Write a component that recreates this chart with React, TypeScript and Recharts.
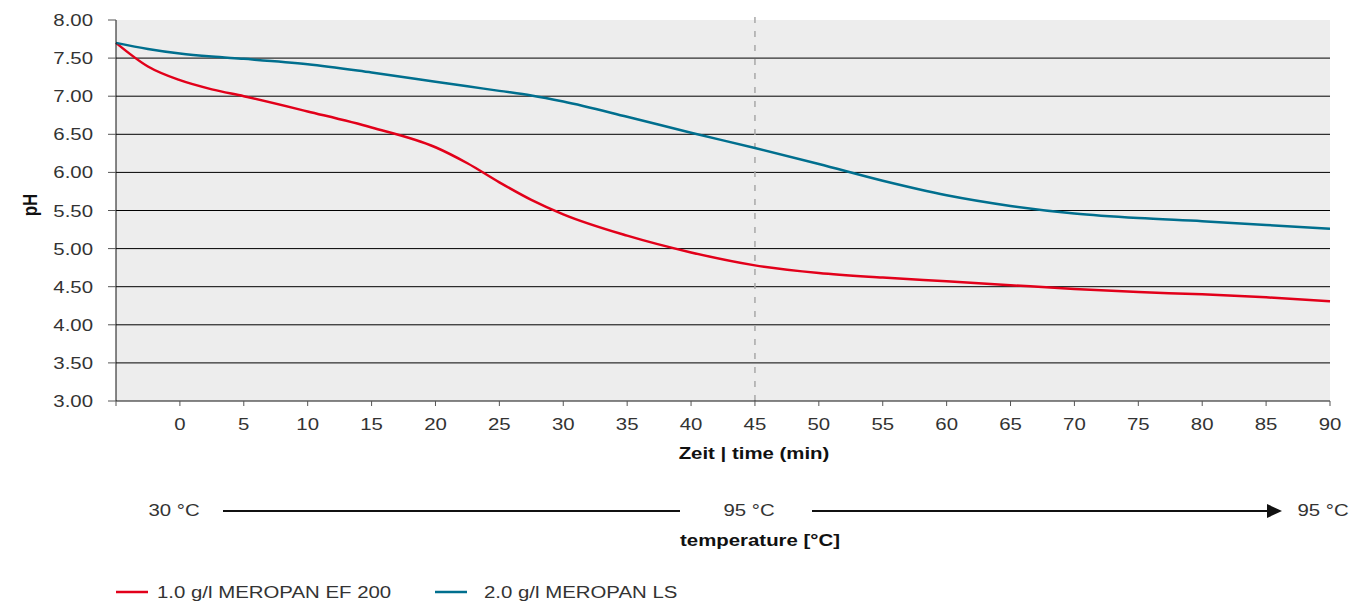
import React from 'react';
import { LineChart, Line, XAxis, YAxis, CartesianGrid, ReferenceLine } from 'recharts';

// time in minutes (the -5 slot is the unlabeled start of the axis)
const times = [-5, -2.5, 0, 2.5, 5, 10, 15, 20, 22.5, 25, 27.5, 30, 35, 40, 45, 50, 55, 60, 65, 70, 75, 80, 85, 90];
const ef200 = [7.7, 7.39, 7.21, 7.09, 7.0, 6.8, 6.59, 6.33, 6.12, 5.87, 5.64, 5.45, 5.17, 4.95, 4.78, 4.68, 4.62, 4.57, 4.52, 4.47, 4.43, 4.4, 4.36, 4.31];
const ls = [7.7, 7.62, 7.56, 7.52, 7.49, 7.42, 7.31, 7.19, 7.13, 7.07, 7.01, 6.93, 6.73, 6.52, 6.32, 6.11, 5.89, 5.7, 5.56, 5.46, 5.4, 5.36, 5.31, 5.26];

const xTicks = [-5, 0, 5, 10, 15, 20, 25, 30, 35, 40, 45, 50, 55, 60, 65, 70, 75, 80, 85, 90];
const yTicks = [3, 3.5, 4, 4.5, 5, 5.5, 6, 6.5, 7, 7.5, 8];
const gridValues = [3.5, 4, 4.5, 5, 5.5, 6, 6.5, 7, 7.5];

const series = [
  { key: 'ef200', name: '1.0 g/l MEROPAN EF 200', color: '#e2001a' },
  { key: 'ls', name: '2.0 g/l MEROPAN LS', color: '#006f8e' },
];

const data = times.map((t, i) => ({ t, ef200: ef200[i], ls: ls[i] }));

const FONT = '"Liberation Sans", Arial, Helvetica, sans-serif';
const STRETCH = 1.2;

const SText = ({ x, y, dy, anchor = 'start', bold = false, fill = '#333', rotate, children }: any) => (
  <text
    transform={`translate(${x},${y}) scale(${STRETCH},1)${rotate ? ` rotate(${rotate})` : ''}`}
    dy={dy}
    textAnchor={anchor}
    fontFamily={FONT}
    fontSize={17}
    fontWeight={bold ? 700 : 400}
    fill={fill}
  >
    {children}
  </text>
);

const YTick = (props: any) => {
  const { x, y, payload } = props;
  return (
    <SText x={x} y={y} dy="0.355em" anchor="end">
      {Number(payload.value).toFixed(2)}
    </SText>
  );
};

const XTick = (props: any) => {
  const { x, y, payload } = props;
  if (payload.value < 0) return <g />;
  return (
    <SText x={x} y={y} dy="0.71em" anchor="middle">
      {payload.value}
    </SText>
  );
};

const App: React.FC = () => {
  return (
    <div style={{ position: 'absolute', left: 0, top: 0, width: 1351, height: 605, background: '#fff' }}>
      <LineChart width={1351} height={605} data={data} margin={{ top: 20, right: 21, bottom: 174, left: 0 }}>
        <CartesianGrid
          vertical={false}
          horizontalValues={gridValues}
          stroke="#000"
          strokeWidth={1}
          fill="#ededed"
          fillOpacity={1}
        />
        <XAxis
          dataKey="t"
          type="number"
          domain={[-5, 90]}
          ticks={xTicks}
          height={30}
          tickSize={5}
          tickMargin={12}
          tick={<XTick />}
          axisLine={{ stroke: '#111' }}
          tickLine={{ stroke: '#555' }}
        />
        <YAxis
          type="number"
          domain={[3, 8]}
          ticks={yTicks}
          width={116}
          tickSize={8}
          tickMargin={15}
          tick={<YTick />}
          axisLine={{ stroke: '#111' }}
          tickLine={{ stroke: '#555' }}
        />
        <ReferenceLine
          segment={[{ x: 45, y: 3 }, { x: 45, y: 8.13 }]}
          ifOverflow="visible"
          stroke="#a8a8a8"
          strokeWidth={1.5}
          strokeDasharray="6 8"
        />
        {series.map((s) => (
          <Line
            key={s.key}
            type="monotone"
            dataKey={s.key}
            name={s.name}
            stroke={s.color}
            strokeWidth={2.5}
            dot={false}
            activeDot={false}
            isAnimationActive={false}
          />
        ))}
      </LineChart>

      {/* axis titles, temperature row and legend */}
      <svg width={1351} height={605} style={{ position: 'absolute', left: 0, top: 0, pointerEvents: 'none' }}>
        <SText x={30} y={205} dy="0.355em" anchor="middle" bold fill="#111" rotate={-90}>pH</SText>
        <SText x={754} y={453} dy="0.355em" anchor="middle" bold fill="#111">Zeit | time (min)</SText>

        <SText x={174} y={510} dy="0.355em" anchor="middle">30 °C</SText>
        <line x1={223} y1={511} x2={680} y2={511} stroke="#111" strokeWidth={2} />
        <SText x={749} y={510} dy="0.355em" anchor="middle">95 °C</SText>
        <line x1={812} y1={511} x2={1276} y2={511} stroke="#111" strokeWidth={2} />
        <path d="M1267,504 L1282,511 L1267,518 Z" fill="#111" />
        <SText x={1323} y={510} dy="0.355em" anchor="middle">95 °C</SText>
        <SText x={760} y={540} dy="0.355em" anchor="middle" bold fill="#111">temperature [°C]</SText>

        <line x1={116} y1={592} x2={148} y2={592} stroke={series[0].color} strokeWidth={2.5} />
        <SText x={157} y={592} dy="0.355em" fill="#333">{series[0].name}</SText>
        <line x1={435} y1={592} x2={467} y2={592} stroke={series[1].color} strokeWidth={2.5} />
        <SText x={484} y={592} dy="0.355em" fill="#333">{series[1].name}</SText>
      </svg>
    </div>
  );
};

export default App;
